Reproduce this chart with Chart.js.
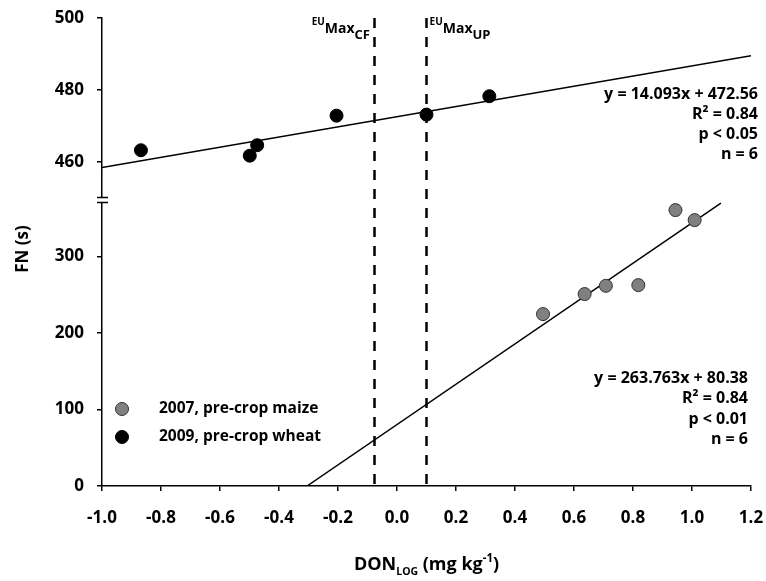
<!DOCTYPE html>
<html>
<head>
<meta charset="utf-8">
<script src="https://cdn.jsdelivr.net/npm/chart.js@4.4.1/dist/chart.umd.min.js"></script>
<style>
  html, body { margin: 0; padding: 0; background: #fff; }
  #wrap { width: 766px; height: 581px; }
</style>
</head>
<body>
<div id="wrap"><canvas id="c" width="766" height="581"></canvas></div>
<script>
// ---- data ----
const maizeLabel = '2007, pre-crop maize';
const wheatLabel = '2009, pre-crop wheat';
const maizeX = [0.495, 0.636, 0.708, 0.818, 0.944, 1.009];
const maizeY = [224.8, 251.0, 261.8, 262.7, 360.8, 347.7];
const wheatX = [-0.868, -0.499, -0.474, -0.205, 0.100, 0.313];
const wheatY = [463.3, 461.8, 464.7, 472.9, 473.2, 478.3];
// regression line endpoints as drawn
const maizeFitX = [-0.305, 1.098];
const maizeFitY = [0, 370.0];
const wheatFitX = [-1.0, 1.2];
const wheatFitY = [458.5, 489.5];
// EU limit positions (DON log)
const euLimitX = [-0.078, 0.097];
const euLimitSub = ['CF', 'UP'];
// regression annotation text
const wheatStats = ['y = 14.093x + 472.56', 'R\u00B2 = 0.84', 'p < 0.05', 'n = 6'];
const maizeStats = ['y = 263.763x + 80.38', 'R\u00B2 = 0.84', 'p < 0.01', 'n = 6'];
// axis ranges / ticks
const xTicks = [-1.0, 1.2, 0.2];
const yTopRange = [449.5, 500, 20];
const yBotRange = [0, 374, 100];

const toPts = (xs, ys) => xs.map((x, i) => ({x: x, y: ys[i]}));
const FONT = '"Open Sans", Lato, sans-serif';

const overlay = {
  id: 'overlay',
  beforeDatasetsDraw(chart) {
    const ctx = chart.ctx, xs = chart.scales.x, ca = chart.chartArea;
    ctx.save();
    ctx.strokeStyle = '#000';
    ctx.lineWidth = 2.5;
    ctx.setLineDash([10, 9]);
    euLimitX.forEach(v => {
      const px = Math.round(xs.getPixelForValue(v)) + 0.5;
      ctx.beginPath();
      ctx.moveTo(px, ca.top);
      ctx.lineTo(px, ca.bottom);
      ctx.stroke();
    });
    ctx.restore();
  },
  afterDraw(chart) {
    const ctx = chart.ctx, xs = chart.scales.x, ca = chart.chartArea;
    const yT = chart.scales.yTop;
    ctx.save();
    // axis break
    const b = yT.bottom;
    const ax = ca.left;
    ctx.fillStyle = '#fff';
    ctx.fillRect(ax - 3, b - 2, 6, 4);
    ctx.strokeStyle = '#000';
    ctx.lineWidth = 1.5;
    ctx.beginPath();
    ctx.moveTo(ax - 5, b - 2.5); ctx.lineTo(ax + 6, b - 2.5);
    ctx.moveTo(ax - 5, b + 2.5); ctx.lineTo(ax + 6, b + 2.5);
    ctx.stroke();
    ctx.fillStyle = '#000';

    // EU labels
    euLimitX.forEach((v, i) => {
      const px = xs.getPixelForValue(v);
      const parts = [
        {t: 'EU', f: 'bold 10px ' + FONT, dy: 25},
        {t: 'Max', f: 'bold 14px ' + FONT, dy: 33},
        {t: euLimitSub[i], f: 'bold 13px ' + FONT, dy: 39}
      ];
      let w = 0;
      parts.forEach(p => { ctx.font = p.f; p.w = ctx.measureText(p.t).width; w += p.w; });
      let x0 = i === 0 ? px - 4 - w : px + 4;
      ctx.textAlign = 'left'; ctx.textBaseline = 'alphabetic';
      parts.forEach(p => { ctx.font = p.f; ctx.fillText(p.t, x0, p.dy); x0 += p.w; });
    });

    // regression stats
    ctx.font = 'bold 16px ' + FONT;
    ctx.textAlign = 'right'; ctx.textBaseline = 'middle';
    wheatStats.forEach((s, i) => ctx.fillText(s, 758, 94 + i * 20));
    maizeStats.forEach((s, i) => ctx.fillText(s, 748, 378 + i * 20.5));

    // legend
    const ds = chart.data.datasets;
    [0, 1].forEach((di, i) => {
      const y = 409 + i * 28;
      ctx.beginPath();
      ctx.arc(122, y, 6.5, 0, Math.PI * 2);
      ctx.fillStyle = ds[di].backgroundColor;
      ctx.fill();
      ctx.lineWidth = 1;
      ctx.strokeStyle = ds[di].borderColor;
      ctx.stroke();
      ctx.fillStyle = '#000';
      ctx.textAlign = 'left';
      ctx.font = 'bold 15.5px ' + FONT;
      ctx.fillText(ds[di].label, 159, y);
    });

    // x axis title: DON_LOG (mg kg^-1)
    const parts = [
      {t: 'DON', f: 'bold 18px ' + FONT, dy: 0},
      {t: 'LOG', f: 'bold 10.5px ' + FONT, dy: 5},
      {t: ' (mg kg', f: 'bold 18px ' + FONT, dy: 0},
      {t: '-1', f: 'bold 11.5px ' + FONT, dy: -8},
      {t: ')', f: 'bold 18px ' + FONT, dy: 0}
    ];
    let w = 0;
    parts.forEach(p => { ctx.font = p.f; p.w = ctx.measureText(p.t).width; w += p.w; });
    let x0 = (ca.left + ca.right) / 2 - w / 2;
    ctx.textAlign = 'left'; ctx.textBaseline = 'alphabetic';
    parts.forEach(p => { ctx.font = p.f; ctx.fillText(p.t, x0, 570 + p.dy); x0 += p.w; });

    // y axis title
    ctx.save();
    ctx.translate(23, 249);
    ctx.rotate(-Math.PI / 2);
    ctx.font = 'bold 17px ' + FONT;
    ctx.textAlign = 'center'; ctx.textBaseline = 'middle';
    ctx.fillText('FN (s)', 0, 0);
    ctx.restore();
    ctx.restore();
  }
};

const tickFont = {family: FONT, size: 17, weight: 'bold'};
const yCommon = {
  type: 'linear', position: 'left', stack: 'fn',
  grid: {drawOnChartArea: false, drawTicks: true, tickLength: 5, color: '#000', lineWidth: 1.5},
  border: {display: true, color: '#000', width: 1.5},
  ticks: {color: '#000', font: tickFont, padding: 13, includeBounds: false},
  afterFit(s) { s.width = 102; s.paddingTop = 0; s.paddingBottom = 0; }
};

new Chart(document.getElementById('c'), {
  type: 'scatter',
  data: {
    datasets: [
      {label: maizeLabel, data: toPts(maizeX, maizeY), yAxisID: 'yBot',
       backgroundColor: '#808080', borderColor: '#303030', borderWidth: 1, pointRadius: 6.5, pointHoverRadius: 6.5},
      {label: wheatLabel, data: toPts(wheatX, wheatY), yAxisID: 'yTop',
       backgroundColor: '#000000', borderColor: '#000000', borderWidth: 1, pointRadius: 6.5, pointHoverRadius: 6.5},
      {label: 'fit maize', data: toPts(maizeFitX, maizeFitY), yAxisID: 'yBot', showLine: true,
       borderColor: '#000', borderWidth: 1.5, pointRadius: 0, fill: false},
      {label: 'fit wheat', data: toPts(wheatFitX, wheatFitY), yAxisID: 'yTop', showLine: true,
       borderColor: '#000', borderWidth: 1.5, pointRadius: 0, fill: false}
    ]
  },
  options: {
    responsive: false,
    animation: false,
    events: [],
    layout: {padding: {top: 18, right: 15, left: 0, bottom: 0}},
    plugins: {legend: {display: false}, tooltip: {enabled: false}},
    scales: {
      x: {
        type: 'linear', position: 'bottom', min: xTicks[0], max: xTicks[1],
        grid: {drawOnChartArea: false, drawTicks: true, tickLength: 5, color: '#000', lineWidth: 1.5},
        border: {display: true, color: '#000', width: 1.5},
        ticks: {stepSize: xTicks[2], color: '#000', font: tickFont, padding: 17,
                callback: v => (Math.abs(v) < 1e-9 ? 0 : v).toFixed(1)},
        afterFit(s) { s.height = 95; s.paddingLeft = 0; s.paddingRight = 0; }
      },
      yBot: Object.assign({}, yCommon, {
        min: yBotRange[0], max: yBotRange[1], stackWeight: 286,
        ticks: Object.assign({}, yCommon.ticks, {stepSize: yBotRange[2]})
      }),
      yTop: Object.assign({}, yCommon, {
        min: yTopRange[0], max: yTopRange[1], stackWeight: 182,
        ticks: Object.assign({}, yCommon.ticks, {stepSize: yTopRange[2]})
      })
    }
  },
  plugins: [overlay]
});
</script>
</body>
</html>
